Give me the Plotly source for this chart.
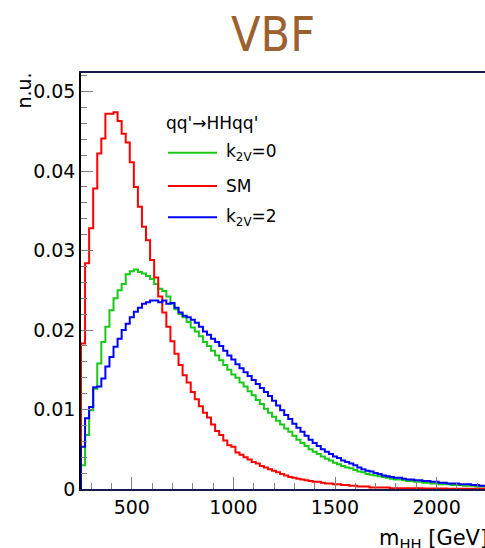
import numpy as np
import plotly.graph_objects as go

# ---- data: normalised m_HH distributions, 20 GeV bins starting at 250 GeV ----
bin_start = 250.0
bin_width = 20.0

k2v0 = [0.0030, 0.0068, 0.0099, 0.0126, 0.0158, 0.0185, 0.0204, 0.0225, 0.0240, 0.0250,
        0.0258, 0.0270, 0.0274, 0.0276, 0.0273, 0.0271, 0.0268, 0.0264, 0.0258, 0.0252,
        0.0249, 0.0242, 0.0233, 0.0226, 0.0220, 0.0216, 0.0210, 0.0203, 0.0198, 0.0192,
        0.0185, 0.0180, 0.0174, 0.0168, 0.0162, 0.0156, 0.0150, 0.0144, 0.0140, 0.0134,
        0.0129, 0.0123, 0.0118, 0.0112, 0.0107, 0.0101, 0.0096, 0.0091, 0.0086, 0.0081,
        0.0076, 0.0072, 0.0067, 0.0062, 0.0058, 0.0054, 0.0050, 0.0047, 0.0044, 0.0041,
        0.0038, 0.0036, 0.0033, 0.0031, 0.0029, 0.0027, 0.0026, 0.0024, 0.0022, 0.0021,
        0.0019, 0.0018, 0.0017, 0.0016, 0.0015, 0.0014, 0.0013, 0.0012, 0.0012, 0.0011,
        0.0010, 0.0010, 0.0009, 0.0009, 0.0008, 0.0008, 0.0007, 0.0007, 0.0006, 0.0006,
        0.0006, 0.0005, 0.0005, 0.0005, 0.0004, 0.0004, 0.0004, 0.0003, 0.0003, 0.0003]

sm = [0.0183, 0.0284, 0.0328, 0.0378, 0.0422, 0.0441, 0.0472, 0.0472, 0.0474, 0.0463,
      0.0447, 0.0436, 0.0411, 0.0380, 0.0355, 0.0330, 0.0313, 0.0288, 0.0266, 0.0242,
      0.0222, 0.0204, 0.0186, 0.0170, 0.0156, 0.0143, 0.0134, 0.0122, 0.0113, 0.0104,
      0.0096, 0.0090, 0.0081, 0.0073, 0.0068, 0.0061, 0.0055, 0.0053, 0.0046, 0.0043,
      0.0040, 0.0037, 0.0034, 0.0032, 0.0029, 0.0027, 0.0025, 0.0023, 0.0021, 0.0019,
      0.0017, 0.0015, 0.0014, 0.0013, 0.0012, 0.0011, 0.0010, 0.0009, 0.0009, 0.0008,
      0.0007, 0.0007, 0.0006, 0.0006, 0.0005, 0.0005, 0.0004, 0.0004, 0.0003, 0.0003,
      0.0003, 0.0002, 0.0002, 0.0002, 0.0002, 0.0002, 0.0001, 0.0001, 0.0001, 0.0001,
      0.0001, 0.0001, 0.0001, 0.0001, 0.00005, 0.00005, 0.00005, 0.00005, 0.00005, 0.00005,
      0.00003, 0.00003, 0.00003, 0.00003, 0.00003, 0.00002, 0.00002, 0.00002, 0.00002, 0.00002]

k2v2 = [0.0053, 0.0089, 0.0103, 0.0128, 0.0129, 0.0139, 0.0154, 0.0166, 0.0179, 0.0189,
        0.0200, 0.0208, 0.0216, 0.0223, 0.0228, 0.0233, 0.0235, 0.0237, 0.0237, 0.0235,
        0.0237, 0.0233, 0.0234, 0.0228, 0.0222, 0.0218, 0.0216, 0.0213, 0.0209, 0.0204,
        0.0198, 0.0194, 0.0189, 0.0185, 0.0180, 0.0174, 0.0168, 0.0163, 0.0157, 0.0152,
        0.0147, 0.0142, 0.0137, 0.0132, 0.0127, 0.0122, 0.0117, 0.0111, 0.0105, 0.0099,
        0.0093, 0.0088, 0.0082, 0.0077, 0.0072, 0.0067, 0.0062, 0.0058, 0.0054, 0.0050,
        0.0047, 0.0044, 0.0041, 0.0039, 0.0036, 0.0034, 0.0032, 0.0030, 0.0027, 0.0025,
        0.0023, 0.0022, 0.0020, 0.0019, 0.0017, 0.0016, 0.0015, 0.0014, 0.0014, 0.0013,
        0.0012, 0.0012, 0.0011, 0.0011, 0.0010, 0.0010, 0.0009, 0.0009, 0.0008, 0.0008,
        0.0007, 0.0007, 0.0007, 0.0006, 0.0006, 0.0006, 0.0005, 0.0005, 0.0004, 0.0004]

series_names = ["k<sub>2V</sub>=0", "SM", "k<sub>2V</sub>=2"]
series_colors = ["#19c819", "#ff0000", "#0000ff"]
y_ticks = [0, 0.01, 0.02, 0.03, 0.04, 0.05]
x_ticks = [500, 1000, 1500, 2000]

# ---- figure geometry ----
W, H = 485, 548
ML, MR, MT, MB = 81, 0, 73, 59
PW, PH = W - ML - MR, H - MT - MB
FONT = "DejaVu Sans"


def px2paper(px, py):
    return (px - ML) / PW, (H - MB - py) / PH


fig = go.Figure()
nb = len(sm)
edges = bin_start + bin_width * np.arange(nb + 1)
for vals, name, col in zip([k2v0, sm, k2v2], series_names, series_colors):
    xs = np.concatenate([[edges[0]], edges])
    ys = np.concatenate([[0.0], vals, [vals[-1]]])
    fig.add_trace(go.Scatter(x=xs, y=ys, mode="lines", line=dict(color=col, width=2, shape="hv"),
                             name=name, showlegend=False, hoverinfo="skip"))

x_max = bin_start + PW / 0.2032
fig.update_xaxes(range=[bin_start, x_max], showline=True, linecolor="#1a1a4a", linewidth=1.5,
                 mirror=True, ticks="inside", ticklen=12, tickcolor="#808080", tickwidth=1,
                 tickvals=x_ticks, ticktext=[str(v) for v in x_ticks],
                 minor=dict(dtick=100, tick0=0, ticks="inside", ticklen=6, tickcolor="#808080"),
                 showgrid=False, zeroline=False, tickfont=dict(size=19, color="black"))
fig.update_yaxes(range=[0, PH / 7950.0], showline=True, linecolor="black", linewidth=1.5,
                 ticks="inside", ticklen=12, tickcolor="#808080", tickwidth=1,
                 tickvals=y_ticks, ticktext=["0", "0.01", "0.02", "0.03", "0.04", "0.05"],
                 minor=dict(dtick=0.002, tick0=0, ticks="inside", ticklen=6, tickcolor="#808080"),
                 showgrid=False, zeroline=False, tickfont=dict(size=19, color="black"))

ann = []
x, y = px2paper(272.5, 34)
ann.append(dict(x=x, y=y, text="VBF", showarrow=False, xanchor="center", yanchor="middle",
                font=dict(family="Liberation Sans Narrow, DejaVu Sans Condensed, Roboto", size=48, color="#9b6230")))
x, y = px2paper(377, 539)
ann.append(dict(x=x, y=y, text="m<sub>HH</sub> [GeV]", showarrow=False, xanchor="left", yanchor="middle",
                font=dict(size=21, color="black")))
x, y = px2paper(23, 90.5)
ann.append(dict(x=x, y=y, text="n.u.", showarrow=False, textangle=-90, xanchor="center", yanchor="middle",
                font=dict(size=19, color="black")))
x, y = px2paper(164, 123)
ann.append(dict(x=x, y=y, text="qq'→HHqq'", showarrow=False, xanchor="left", yanchor="middle",
                font=dict(size=17, color="black")))

shapes = []
for name, col, ly in zip(series_names, series_colors, [152.7, 186, 217.3]):
    x0, yy = px2paper(168, ly)
    x1, _ = px2paper(217, ly)
    shapes.append(dict(type="line", xref="paper", yref="paper", x0=x0, x1=x1, y0=yy, y1=yy,
                       line=dict(color=col, width=2)))
    xt, _ = px2paper(224, ly)
    ann.append(dict(x=xt, y=yy, text=name, showarrow=False, xanchor="left", yanchor="middle",
                    font=dict(size=17, color="black")))

for a in ann:
    a.setdefault("xref", "paper")
    a.setdefault("yref", "paper")

fig.update_layout(width=W, height=H, margin=dict(l=ML, r=MR, t=MT, b=MB, pad=0),
                  paper_bgcolor="white", plot_bgcolor="white",
                  font=dict(family=FONT, color="black"),
                  annotations=ann, shapes=shapes, showlegend=False)

fig.write_html("out.html")
